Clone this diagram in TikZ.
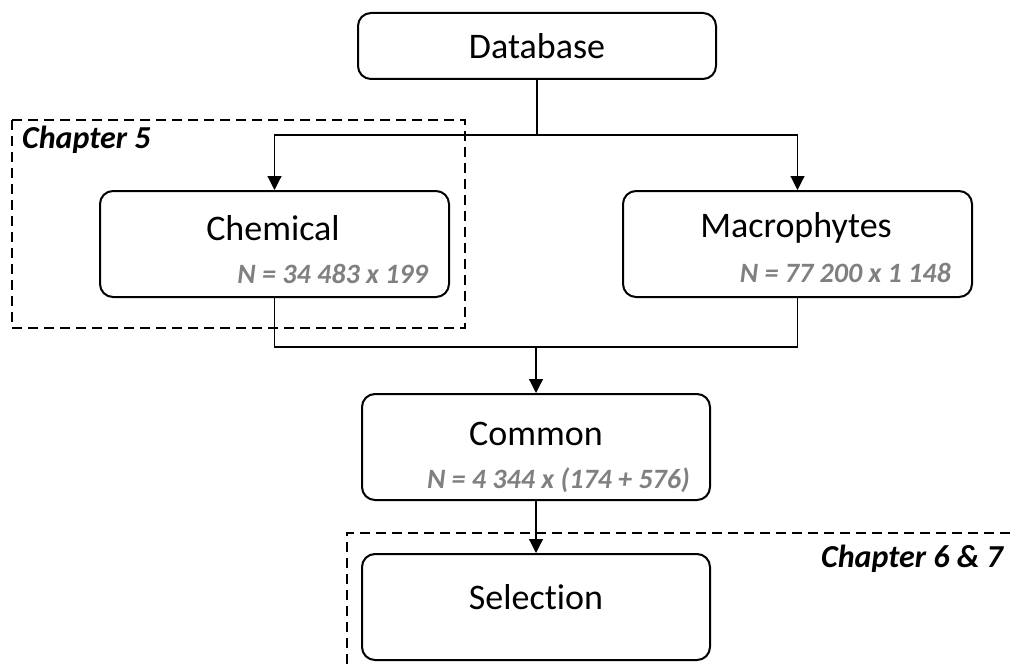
\documentclass[tikz,border=0pt]{standalone}
\usepackage{fontspec}
\setmainfont{Carlito}[Ligatures=NoCommon]
\usetikzlibrary{arrows.meta}
\definecolor{ngray}{RGB}{128,128,128}
\tikzset{
  box/.style={draw, line width=2pt, rounded corners=13pt, minimum width=348pt, inner sep=0pt},
  title/.style={font=\fontsize{36}{40}\selectfont, inner sep=0pt},
  count/.style={font=\fontsize{28}{31}\selectfont\bfseries\itshape, text=ngray, inner sep=0pt, anchor=east},
  chap/.style={font=\fontsize{32}{35}\selectfont\bfseries\itshape, inner sep=0pt},
  link/.style={line width=1.2pt},
  arr/.style={link, -{Triangle[width=14pt,length=14pt]}},
  frame/.style={line width=2pt, dash pattern=on 10pt off 6pt},
}
\begin{document}
\begin{tikzpicture}[x=1pt,y=-1pt]
\useasboundingbox (0,0) rectangle (1011,666);

% chapter frames
\draw[frame] (12,120) rectangle (465,328);
\node[chap, anchor=west] (ch5) at (22,140) {Chapter 5};
\draw[frame] (347,680) -- (347,533) -- (1020,533);
\node[chap, anchor=east] (ch67) at (1003,559) {Chapter 6 \& 7};

% boxes
\node[box, minimum width=358pt, minimum height=66pt] (db) at (537,46) {};
\node[title] (dbt) at (db.center) {Database};

\node[box, minimum width=349pt, minimum height=106pt] (chem) at (274.5,244) {};
\node[title] (chemt) at (273,228) {Chemical};
\node[count] (chemn) at (428,274) {N = 34 483 x 199};

\node[box, minimum width=349pt, minimum height=106pt] (mac) at (797.5,244) {};
\node[title] (mact) at (796,228) {Macrophytes};
\node[count] (macn) at (951,273) {N = 77 200 x 1 148};

\node[box, minimum height=106pt] (com) at (536,447) {};
\node[title] (comt) at (536,434) {Common};
\node[count] (comn) at (690,480) {N = 4 344 x (174 + 576)};

\node[box, minimum height=106pt] (sel) at (536,607) {};
\node[title] (selt) at (536,597) {Selection};

% connectors
\coordinate (split) at (537,135);
\coordinate (join) at (536,347);
\draw[link] (db.south) -- (split);
\draw[arr] (split) -| (chem.north);
\draw[arr] (split) -| (mac.north);
\draw[link] (chem.south) |- (join);
\draw[link] (mac.south) |- (join);
\draw[arr] (join) -- (com.north);
\draw[arr] (com.south) -- (sel.north);
\end{tikzpicture}
\end{document}
